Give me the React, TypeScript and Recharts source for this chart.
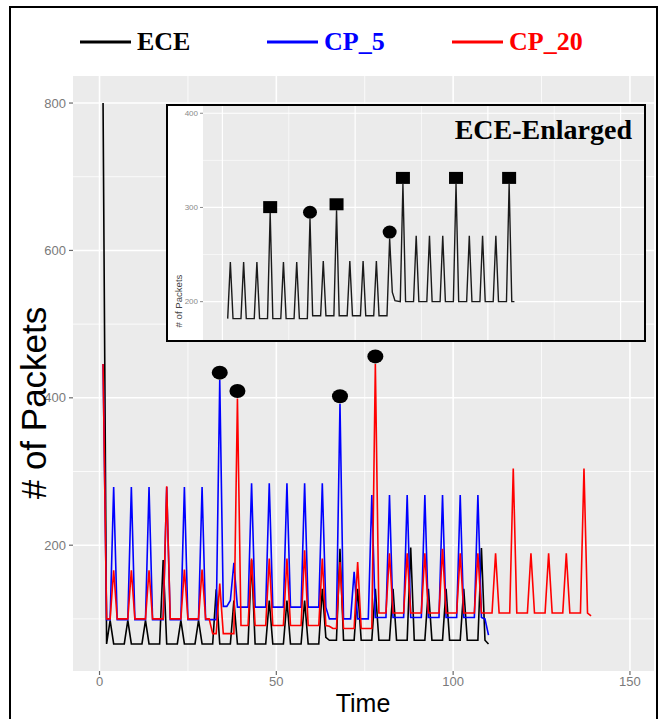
import React from 'react';
import { ComposedChart, Line, Scatter, XAxis, YAxis, CartesianGrid } from 'recharts';

// ---- Main chart data (Time, # of Packets) ----
const ECE_T = [1,2,3,4,7,8,9,12,13,14,17,18,19,22,23,24,27,28,29,32,33,34,37,38,39,42,43,44,47,48,49,52,53,54,57,58,59,62,63,64,65,67,68,69,72,73,74,77,78,79,82,83,84,87,88,89,92,93,94,97,98,99,102,103,104,107,108,109,110];
const ECE_V = [800,66,98,66,66,98,66,66,98,66,66,180,66,66,98,66,66,98,66,66,140,66,66,125,66,66,180,66,66,125,66,66,125,66,66,125,66,66,141,75,71,71,195,71,71,141,71,71,141,71,71,141,71,71,197,71,71,141,71,71,141,71,71,141,71,71,196,71,66];

const CP5_T = [1,2,3,4,5,8,9,10,13,14,15,18,19,20,23,24,25,28,29,30,33,34,35,36,37,38,39,42,43,44,47,48,49,52,53,54,57,58,59,62,63,64,65,67,68,69,71,72,73,76,77,78,81,82,83,86,87,88,91,92,93,96,97,98,101,102,103,106,107,108,109,110];
const CP5_V = [446,99,99,279,99,99,279,99,99,279,99,99,279,99,99,279,99,99,279,99,99,424,117,117,125,176,116,116,284,116,116,284,116,116,284,116,116,284,116,116,284,116,100,100,392,100,100,164,100,100,268,102,102,268,102,102,268,102,102,268,102,102,268,102,102,268,102,102,268,102,100,78];

const CP20_T = [1,2,3,4,5,8,9,10,13,14,15,18,19,20,23,24,25,28,29,30,31,32,33,34,35,38,39,40,42,43,44,47,48,49,52,53,54,57,58,59,62,63,64,65,66,67,68,69,72,73,74,77,78,79,81,82,83,86,87,88,91,92,93,96,97,98,101,102,103,106,107,108,111,112,113,116,117,118,121,122,123,126,127,128,131,132,133,136,137,138,139];
const CP20_V = [446,100,100,166,100,100,166,100,100,166,100,100,280,100,100,167,100,100,167,100,100,80,80,148,80,80,399,91,91,182,91,91,182,91,91,182,91,91,193,91,91,182,91,90,87,87,177,87,87,177,87,87,446,108,108,189,108,108,189,108,108,189,108,108,195,108,108,189,108,108,189,108,108,189,108,108,304,108,108,189,108,108,189,108,108,189,108,108,304,108,104];

// marked peaks on the main chart
const MAIN_MARK_SERIES = ['CP_5', 'CP_20', 'CP_5', 'CP_20'];
const MAIN_MARK_T = [34, 39, 68, 78];

// ---- Inset (ECE-Enlarged) data ----
const INSET_T = [2,3,4,7,8,9,12,13,14,17,18,19,22,23,24,27,28,29,32,33,34,37,38,39,42,43,44,47,48,49,52,53,54,57,58,59,62,63,64,65,67,68,69,72,73,74,77,78,79,82,83,84,87,88,89,92,93,94,97,98,99,102,103,104,107,108,109,110];
const INSET_V = [182,242,182,182,242,182,182,242,182,182,294,182,182,242,182,182,242,182,182,288,185,185,243,185,185,297,185,185,243,185,185,243,185,185,243,185,185,267,210,201,200,325,200,200,270,200,200,270,200,200,270,200,200,325,200,200,270,200,200,270,200,200,270,200,200,325,200,200];
const INSET_SQUARE_T = [18, 43, 68, 88, 108];
const INSET_CIRCLE_T = [33, 63];

// ---- Axes ----
const X_TICKS = [0, 50, 100, 150];
const X_MINOR = [25, 75, 125];
const Y_TICKS = [200, 400, 600, 800];
const Y_MINOR = [100, 300, 500, 700];
const INSET_Y_TICKS = [200, 300, 400];
const INSET_Y_MINOR = [250, 350];

const LEGEND_LABELS = ['ECE', 'CP_5', 'CP_20'];
const COLORS: Record<string, string> = { ECE: '#000000', CP_5: '#0000FF', CP_20: '#FF0000' };

const toRows = (ts: number[], vs: number[]) => ts.map((t, i) => ({ t, v: vs[i] }));
const eceData = toRows(ECE_T, ECE_V);
const cp5Data = toRows(CP5_T, CP5_V);
const cp20Data = toRows(CP20_T, CP20_V);
const insetData = toRows(INSET_T, INSET_V);

const seriesMap: Record<string, { t: number; v: number }[]> = { ECE: eceData, CP_5: cp5Data, CP_20: cp20Data };
const lookup = (rows: { t: number; v: number }[], t: number) => rows.find((r) => r.t === t)!.v;
const mainMarks = MAIN_MARK_T.map((t, i) => ({ t, v: lookup(seriesMap[MAIN_MARK_SERIES[i]], t) }));
const insetSquares = INSET_SQUARE_T.map((t) => ({ t, v: lookup(insetData, t) }));
const insetCircles = INSET_CIRCLE_T.map((t) => ({ t, v: lookup(insetData, t) }));

const SANS = '"Liberation Sans", Arial, Helvetica, sans-serif';
const SERIF = '"Liberation Serif", "Times New Roman", serif';

const CircleMark = (p: any) => <ellipse cx={p.cx} cy={p.cy - 7.5} rx={8} ry={7} fill="#000" />;
const InsetCircle = (p: any) => <ellipse cx={p.cx} cy={p.cy - 6.5} rx={7} ry={6.5} fill="#000" />;
const InsetSquare = (p: any) => <rect x={p.cx - 7} y={p.cy - 12} width={14} height={12} fill="#000" />;

export default function App() {
  return (
    <div style={{ position: 'absolute', left: 0, top: 0, width: 664, height: 719, background: '#fff', overflow: 'hidden' }}>
      <div style={{ position: 'absolute', left: 0, top: 0 }}>
        <ComposedChart width={664} height={719} margin={{ top: 76, right: 10, bottom: 18, left: 13 }}>
          <CartesianGrid fill="#EBEBEB" stroke="#ffffff" strokeWidth={0.8} horizontalValues={Y_MINOR} verticalValues={X_MINOR} />
          <CartesianGrid fill="none" stroke="#ffffff" strokeWidth={1.6} horizontalValues={Y_TICKS} verticalValues={X_TICKS} />
          <XAxis
            type="number"
            dataKey="t"
            domain={[-7.5, 156.8]}
            allowDataOverflow
            ticks={X_TICKS}
            height={30}
            axisLine={false}
            tickSize={4}
            tickMargin={2}
            tickLine={{ stroke: '#6a6a6a', strokeWidth: 1.2 }}
            tick={{ fontSize: 13, fill: '#7a7a7a', fontFamily: SANS }}
          />
          <YAxis
            type="number"
            domain={[29.3, 836.7]}
            allowDataOverflow
            ticks={Y_TICKS}
            width={60}
            axisLine={false}
            tickSize={4}
            tickMargin={3}
            tickLine={{ stroke: '#6a6a6a', strokeWidth: 1.2 }}
            tick={{ fontSize: 13, fill: '#7a7a7a', fontFamily: SANS }}
          />
          <Line data={eceData} dataKey="v" type="linear" stroke={COLORS.ECE} strokeWidth={1.6} dot={false} isAnimationActive={false} />
          <Line data={cp5Data} dataKey="v" type="linear" stroke={COLORS.CP_5} strokeWidth={1.6} dot={false} isAnimationActive={false} />
          <Line data={cp20Data} dataKey="v" type="linear" stroke={COLORS.CP_20} strokeWidth={1.6} dot={false} isAnimationActive={false} />
          <Scatter data={mainMarks} dataKey="v" shape={CircleMark} isAnimationActive={false} />
        </ComposedChart>
      </div>

      {/* inset */}
      <div style={{ position: 'absolute', left: 166, top: 104, width: 480, height: 238, boxSizing: 'border-box', border: '2px solid #000', background: '#fff', overflow: 'hidden' }}>
        <ComposedChart width={476} height={234} margin={{ top: 0, right: 0, bottom: 0, left: 0 }}>
          <CartesianGrid fill="#EBEBEB" stroke="#ffffff" strokeWidth={0.6} horizontalValues={INSET_Y_MINOR} verticalValues={X_MINOR} />
          <CartesianGrid fill="none" stroke="#ffffff" strokeWidth={1.2} horizontalValues={INSET_Y_TICKS} verticalValues={X_TICKS} />
          <XAxis type="number" dataKey="t" domain={[-7.3, 158.8]} allowDataOverflow hide />
          <YAxis
            type="number"
            domain={[159.3, 407.7]}
            allowDataOverflow
            ticks={INSET_Y_TICKS}
            width={35}
            axisLine={false}
            tickSize={3}
            tickMargin={2}
            tickLine={{ stroke: '#8a8a8a', strokeWidth: 1 }}
            tick={{ fontSize: 8, fill: '#8a8a8a', fontFamily: SANS }}
          />
          <Line data={insetData} dataKey="v" type="linear" stroke="#1a1a1a" strokeWidth={1.4} dot={false} isAnimationActive={false} />
          <Scatter data={insetSquares} dataKey="v" shape={InsetSquare} isAnimationActive={false} />
          <Scatter data={insetCircles} dataKey="v" shape={InsetCircle} isAnimationActive={false} />
        </ComposedChart>
      </div>

      {/* outer frame, legend and titles */}
      <svg width={664} height={719} style={{ position: 'absolute', left: 0, top: 0, pointerEvents: 'none' }}>
        <rect x={10} y={7} width={647} height={730} fill="none" stroke="#000" strokeWidth={2} />
        {LEGEND_LABELS.map((name, i) => {
          const lx = [80, 267, 452][i];
          return (
            <g key={name}>
              <line x1={lx} x2={lx + 51} y1={42} y2={42} stroke={COLORS[name]} strokeWidth={3.2} />
              <text x={lx + 57} y={50} fontFamily={SERIF} fontWeight="bold" fontSize={26} fill={COLORS[name]}>{name}</text>
            </g>
          );
        })}
        <text x={363} y={712} textAnchor="middle" fontFamily={SANS} fontSize={25} fill="#000">Time</text>
        <text transform="translate(46,403) rotate(-90)" textAnchor="middle" fontFamily={SANS} fontSize={35} fill="#000"># of Packets</text>
        <text x={632} y={139} textAnchor="end" fontFamily={SERIF} fontWeight="bold" fontSize={28} fill="#000">ECE-Enlarged</text>
        <text transform="translate(182,301) rotate(-90)" textAnchor="middle" fontFamily={SANS} fontSize={9.6} fill="#444"># of Packets</text>
      </svg>
    </div>
  );
}
